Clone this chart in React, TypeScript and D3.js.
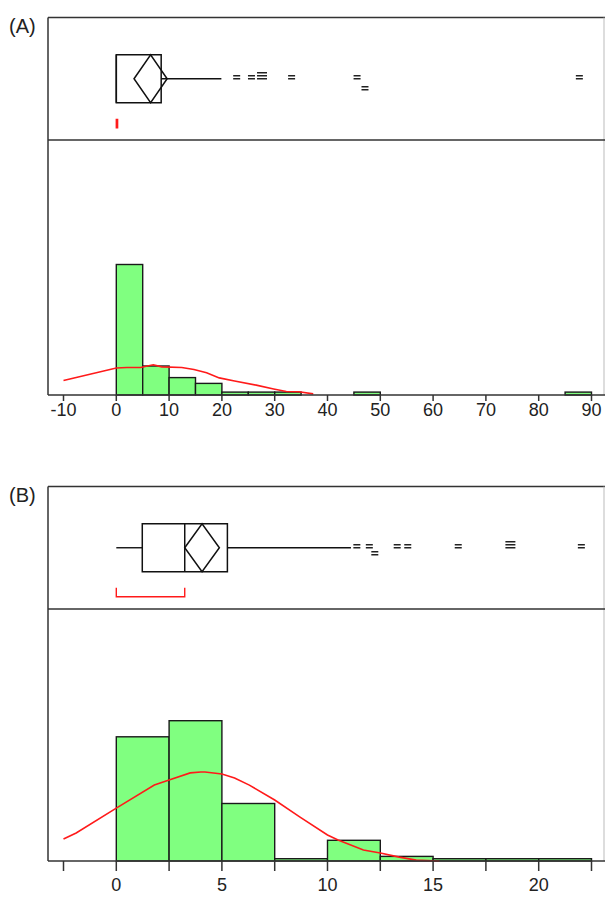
import React from "react";
import * as d3 from "d3";

// ---------- Panel A data ----------
const binStartA = [0, 5, 10, 15, 20, 25, 30, 45, 85];
const binWidthA = 5;
const countsA = [45, 10, 6, 4, 1, 1, 1, 1, 1];
const densityXA = [-10, 0, 2, 4.6, 7, 8.6, 12.4, 14.7, 17.1, 19.5, 22.4, 26.5, 29.8, 32.2, 34.6, 37.3];
const densityYA = [5.0, 9.3, 9.5, 9.5, 10.4, 9.7, 9.5, 8.8, 7.7, 5.9, 4.8, 3.4, 2.1, 1.2, 1.1, 0.4];
const ticksA = [-10, 0, 10, 20, 30, 40, 50, 60, 70, 80, 90];
const tickLabelsA = ["-10", "0", "10", "20", "30", "40", "50", "60", "70", "80", "90"];
const boxA = { lo: 0, q1: 0, median: 0, q3: 8.5, hi: 19.9, mean: 6.5, ciLo: 3.36, ciHi: 9.63, shortLo: 0, shortHi: 0.25 };
const outlierValA = [22.8, 25.6, 27.6, 33.2, 45.6, 47.1, 87.7];
const outlierMultA = [1, 1, 2, 1, 1, 1, 1];
const outlierRowA = [0, 0, 0, 0, 0, 1, 0];

// ---------- Panel B data ----------
const binStartB = [0, 2.5, 5, 7.5, 10, 12.5, 15, 17.5, 20];
const binWidthB = 2.5;
const countsB = [54, 61, 25, 1, 9, 2, 1, 1, 1];
const densityXB = [-2.5, -1.9, 0, 1.8, 2.5, 3.5, 4.0, 4.2, 5, 5.6, 6.3, 7.5, 8.7, 10, 10.5, 11.7, 12.5, 13.4, 14.2, 15.3];
const densityYB = [9.6, 12.2, 23, 33, 35.2, 38.3, 38.7, 38.7, 37.8, 36.1, 33, 26.5, 19.1, 11.3, 9.1, 4.8, 3.5, 1.7, 0.4, 0];
const ticksB = [-2.5, 0, 2.5, 5, 7.5, 10, 12.5, 15, 17.5, 20, 22.5];
const tickLabelsB = ["", "0", "", "5", "", "10", "", "15", "", "20", ""];
const boxB = { lo: 0, q1: 1.23, median: 3.24, q3: 5.26, hi: 11.11, mean: 4.06, ciLo: 3.24, ciHi: 4.88, shortLo: 0, shortHi: 3.24 };
const outlierValB = [11.39, 11.98, 12.24, 13.3, 13.8, 16.19, 18.66, 22.02];
const outlierMultB = [1, 1, 1, 1, 1, 1, 2, 1];
const outlierRowB = [0, 0, 1, 0, 0, 0, 0, 0];

const FONT = "'Liberation Sans', Arial, sans-serif";
const FRAME = "#333";

type BoxStats = typeof boxA;

function Panel(props: {
  label: string;
  top: number;
  divider: number;
  axisY: number;
  xDomain: [number, number];
  binStart: number[];
  binWidth: number;
  counts: number[];
  yMax: number;
  unitPx: number;
  dX: number[];
  dY: number[];
  ticks: number[];
  tickLabels: string[];
  box: BoxStats;
  outVals: number[];
  outMult: number[];
  outRow: number[];
  rowOffset: number;
  tickLen: number;
  labelDy: number;
}) {
  const p = props;
  const left = 48, right = 604;
  const x = d3.scaleLinear().domain(p.xDomain).range([63.5, 591.5]);
  const y = d3.scaleLinear().domain([0, p.yMax]).range([p.axisY, p.axisY - p.yMax * p.unitPx]);
  const cy = (p.top + p.divider) / 2;
  const bh = 24;
  const line = d3
    .line<number>()
    .x((_, i) => x(p.dX[i]))
    .y((d) => y(d));
  const b = p.box;
  const brTop = cy + 40, brBot = cy + 49;
  return (
    <g>
      <text x={9} y={p.top + 15} fontFamily={FONT} fontSize={20} fill="#222">{p.label}</text>
      {/* bars */}
      {p.binStart.map((s, i) => (
        <rect
          key={"b" + i}
          x={x(s)}
          y={y(p.counts[i])}
          width={x(s + p.binWidth) - x(s)}
          height={y(0) - y(p.counts[i])}
          fill="#80ff80"
          stroke="#1a1a1a"
          strokeWidth={1.4}
        />
      ))}
      {/* density */}
      <path d={line(p.dY) || ""} fill="none" stroke="#ff1a1a" strokeWidth={1.6} />
      {/* frame */}
      <line x1={left} x2={605} y1={p.top} y2={p.top} stroke={FRAME} strokeWidth={1.5} />
      <line x1={left} x2={left} y1={p.top} y2={p.axisY} stroke={FRAME} strokeWidth={1.5} />
      <line x1={right} x2={right} y1={p.top} y2={p.axisY} stroke="#bbb" strokeWidth={1} />
      <line x1={left} x2={605} y1={p.divider} y2={p.divider} stroke={FRAME} strokeWidth={1.5} />
      <line x1={left} x2={605} y1={p.axisY} y2={p.axisY} stroke={FRAME} strokeWidth={1.5} />
      {/* ticks */}
      {p.ticks.map((t, i) => (
        <g key={"t" + i}>
          <line x1={x(t)} x2={x(t)} y1={p.axisY} y2={p.axisY + p.tickLen} stroke={FRAME} strokeWidth={1.5} />
          <text x={x(t)} y={p.axisY + p.labelDy} textAnchor="middle" fontFamily={FONT} fontSize={18} fill="#222">
            {p.tickLabels[i]}
          </text>
        </g>
      ))}
      {/* box plot */}
      <line x1={x(b.lo)} x2={x(b.q1)} y1={cy} y2={cy} stroke="#111" strokeWidth={1.4} />
      <line x1={x(b.q3)} x2={x(b.hi)} y1={cy} y2={cy} stroke="#111" strokeWidth={1.4} />
      <rect x={x(b.q1)} y={cy - bh} width={x(b.q3) - x(b.q1)} height={2 * bh} fill="none" stroke="#111" strokeWidth={1.5} />
      <line x1={x(b.median)} x2={x(b.median)} y1={cy - bh} y2={cy + bh} stroke="#111" strokeWidth={1.5} />
      <path
        d={`M${x(b.ciLo)},${cy} L${x(b.mean)},${cy - bh} L${x(b.ciHi)},${cy} L${x(b.mean)},${cy + bh} Z`}
        fill="none"
        stroke="#111"
        strokeWidth={1.5}
      />
      {/* outliers */}
      {p.outVals.map((v, i) => {
        const ox = x(v);
        const oy = cy - 1.5 + p.outRow[i] * p.rowOffset;
        const n = p.outMult[i] + 1;
        const w = 7 + 3 * (p.outMult[i] - 1);
        const segs = [] as JSX.Element[];
        for (let k = 0; k < n; k++) {
          const ly = oy + 1.5 - (n - 1 - k) * 3;
          segs.push(
            <line key={k} x1={ox - w / 2} x2={ox + w / 2} y1={ly} y2={ly} stroke="#222" strokeWidth={1.5} />
          );
        }
        return <g key={"o" + i}>{segs}</g>;
      })}
      {/* shortest half bracket */}
      <path
        d={`M${x(b.shortLo)},${brTop} L${x(b.shortLo)},${brBot} L${x(b.shortHi)},${brBot} L${x(b.shortHi)},${brTop}`}
        fill="none"
        stroke="#ff1a1a"
        strokeWidth={1.4}
      />
    </g>
  );
}

export default function App() {
  return (
    <svg width={605} height={909} style={{ position: "absolute", left: 0, top: 0, background: "#fff" }}>
      <rect width={605} height={909} fill="#fff" />
      <Panel
        label="(A)"
        top={17.5}
        divider={140}
        axisY={395}
        xDomain={[-10, 90]}
        binStart={binStartA}
        binWidth={binWidthA}
        counts={countsA}
        yMax={45}
        unitPx={2.9}
        dX={densityXA}
        dY={densityYA}
        ticks={ticksA}
        tickLabels={tickLabelsA}
        box={boxA}
        outVals={outlierValA}
        outMult={outlierMultA}
        outRow={outlierRowA}
        rowOffset={11}
        tickLen={6}
        labelDy={21}
      />
      <Panel
        label="(B)"
        top={486.5}
        divider={609}
        axisY={861}
        xDomain={[-2.5, 22.5]}
        binStart={binStartB}
        binWidth={binWidthB}
        counts={countsB}
        yMax={61}
        unitPx={2.3}
        dX={densityXB}
        dY={densityYB}
        ticks={ticksB}
        tickLabels={tickLabelsB}
        box={boxB}
        outVals={outlierValB}
        outMult={outlierMultB}
        outRow={outlierRowB}
        rowOffset={7}
        tickLen={10}
        labelDy={30}
      />
    </svg>
  );
}
